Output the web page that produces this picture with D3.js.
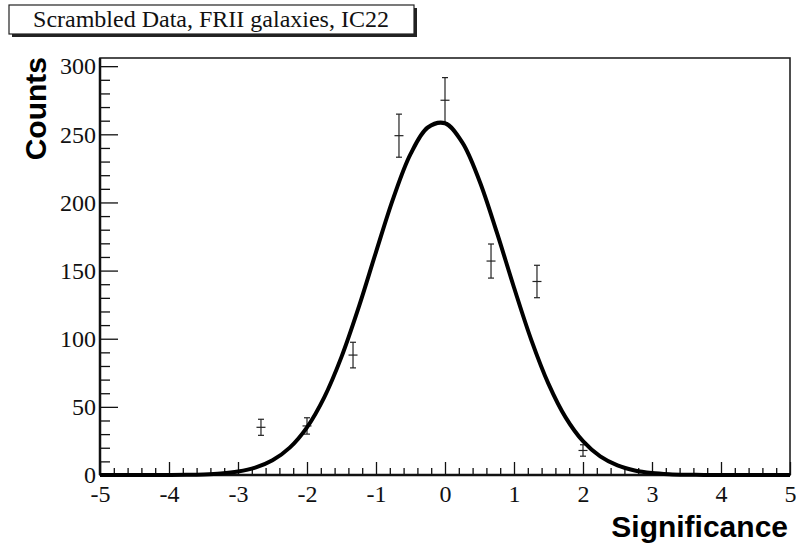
<!DOCTYPE html>
<html><head><meta charset="utf-8">
<script src="https://cdn.jsdelivr.net/npm/d3@7"></script>
<style>body{margin:0;background:#fff}svg{display:block}
.serif{font-family:"Liberation Serif","Times New Roman","DejaVu Serif",serif}
.sansb{font-family:"Liberation Sans",Arial,Helvetica,sans-serif;font-weight:bold}
</style>
</head><body>
<svg id="c" width="796" height="548"></svg>
<script>
// ---- data ----
const binCenters = [-2.667, -2, -1.333, -0.667, 0, 0.667, 1.333, 2];
const counts     = [35, 36, 88, 249, 275, 157, 142, 18];
const errors     = [5.9, 6.0, 9.4, 15.8, 16.6, 12.5, 11.9, 4.2];
// fitted gaussian curve
const fitX = [-5,-4.75,-4.5,-4.25,-4,-3.75,-3.5,-3.25,-3,-2.75,-2.5,-2.25,-2,-1.75,-1.5,-1.25,-1,-0.75,-0.5,-0.25,0,0.25,0.5,0.75,1,1.25,1.5,1.75,2,2.25,2.5,2.75,3,3.25,3.5,3.75,4,4.25,4.5,4.75,5];
const fitY = [0,0,0.01,0.02,0.06,0.17,0.45,1.11,2.54,5.41,10.8,20.1,35.0,57.0,86.7,123.2,163.6,203.0,235.4,255.0,258.1,244.1,215.8,178.2,137.6,99.2,66.9,42.1,24.8,13.6,7.0,3.36,1.51,0.63,0.25,0.09,0.03,0.01,0,0,0];
const xMajor = [-5,-4,-3,-2,-1,0,1,2,3,4,5];
const yMajor = [0,50,100,150,200,250,300];
const titleText = "Scrambled Data, FRII galaxies, IC22";
const xTitle = "Significance";
const yTitle = "Counts";

// ---- layout ----
const svg = d3.select("#c");
const L = 100, R = 790, T = 58, B = 475;
const x = d3.scaleLinear().domain([-5, 5]).range([L, R]);
const y = d3.scaleLinear().domain([0, 306]).range([B, T]);

// frame
svg.append("rect").attr("x", L).attr("y", T).attr("width", R - L).attr("height", B - T)
  .attr("fill", "none").attr("stroke", "#222").attr("stroke-width", 1.6);

// minor ticks
const xMinor = d3.range(-50, 51, 2).map(v => v / 10).filter(v => !xMajor.includes(v));
const yMinor = d3.range(0, 301, 10).filter(v => v % 50 !== 0);

svg.append("g").attr("transform", `translate(0,${B})`)
  .call(d3.axisBottom(x).tickValues(xMinor).tickSize(-7).tickFormat(""))
  .call(g => g.select(".domain").remove())
  .selectAll("line").attr("stroke", "#111").attr("stroke-width", 1.3);
svg.append("g").attr("transform", `translate(${L},0)`)
  .call(d3.axisLeft(y).tickValues(yMinor).tickSize(-10).tickFormat(""))
  .call(g => g.select(".domain").remove())
  .selectAll("line").attr("stroke", "#111").attr("stroke-width", 1.3);

// major axes
const xa = svg.append("g").attr("transform", `translate(0,${B})`)
  .call(d3.axisBottom(x).tickValues(xMajor).tickSize(-13).tickPadding(10).tickFormat(d => String(d)));
xa.attr("font-family", null).attr("font-size", null);
xa.select(".domain").attr("stroke", "#111").attr("stroke-width", 2.5).attr("d", `M${L},0H${R}`);
xa.selectAll("line").attr("stroke", "#111").attr("stroke-width", 1.3);
xa.selectAll("text").attr("class", "serif").style("font-size", "24px").attr("fill", "#111").attr("dy", "0.71em");

const ya = svg.append("g").attr("transform", `translate(${L},0)`)
  .call(d3.axisLeft(y).tickValues(yMajor).tickSize(-18).tickPadding(4).tickFormat(d => String(d)));
ya.attr("font-family", null).attr("font-size", null);
ya.select(".domain").attr("stroke", "#111").attr("stroke-width", 2.5).attr("d", `M0,${B}V${T}`);
ya.selectAll("line").attr("stroke", "#111").attr("stroke-width", 1.3);
ya.selectAll("text").attr("class", "serif").style("font-size", "24px").attr("fill", "#111");

// data points with error bars
const pts = svg.append("g").attr("stroke", "#222").attr("stroke-width", 1.2);
binCenters.forEach((c, i) => {
  const cx = x(c), v = counts[i], e = errors[i];
  pts.append("line").attr("x1", cx).attr("x2", cx).attr("y1", y(v - e)).attr("y2", y(v + e));
  pts.append("line").attr("x1", cx - 3).attr("x2", cx + 3).attr("y1", y(v - e)).attr("y2", y(v - e));
  pts.append("line").attr("x1", cx - 3).attr("x2", cx + 3).attr("y1", y(v + e)).attr("y2", y(v + e));
  pts.append("line").attr("x1", cx - 4.5).attr("x2", cx + 4.5).attr("y1", y(v)).attr("y2", y(v));
});

// fit curve
const line = d3.line().x((d, i) => x(fitX[i])).y(d => y(d)).curve(d3.curveCatmullRom);
svg.append("path").datum(fitY).attr("d", line)
  .attr("fill", "none").attr("stroke", "#000").attr("stroke-width", 4).attr("stroke-linejoin", "round");

// axis titles
svg.append("text").attr("x", 788).attr("y", 537).attr("text-anchor", "end")
  .attr("class", "sansb").style("font-size", "30px").text(xTitle);
svg.append("text").attr("transform", "translate(46,57) rotate(-90)").attr("text-anchor", "end")
  .attr("class", "sansb").style("font-size", "30px").text(yTitle);

// title box
svg.append("rect").attr("x", 12).attr("y", 8).attr("width", 405).attr("height", 29).attr("fill", "#222");
svg.append("rect").attr("x", 9).attr("y", 5).attr("width", 405).attr("height", 29)
  .attr("fill", "#fff").attr("stroke", "#222").attr("stroke-width", 1.2);
svg.append("text").attr("x", 211).attr("y", 27).attr("text-anchor", "middle")
  .attr("class", "serif").style("font-size", "24px").attr("fill", "#111").text(titleText);
</script>
</body></html>
